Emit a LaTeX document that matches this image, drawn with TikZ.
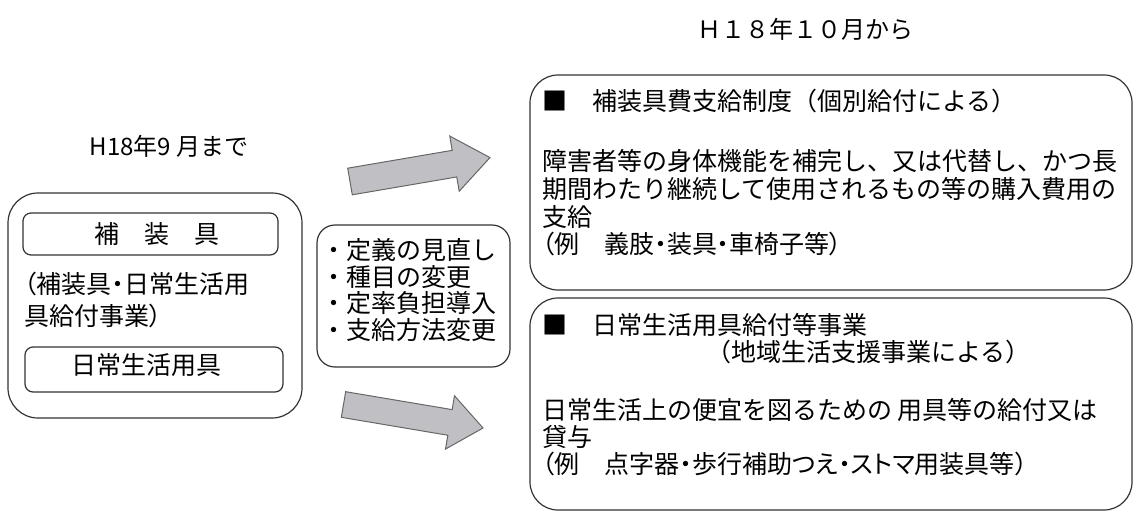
\documentclass[tikz,border=0pt]{standalone}
\usepackage{fontspec}
\newfontfamily\jp{Noto Sans CJK JP}
\newfontfamily\jpp[RawFeature=+palt]{Noto Sans CJK JP}
\definecolor{arrowfill}{RGB}{192,192,196}
\begin{document}
\begin{tikzpicture}[x=1pt,y=-1pt,
  box/.style={draw=black!80, line width=1.2pt, rounded corners=#1, inner sep=0pt},
  txt/.style={font=\jp\fontsize{25}{28}\selectfont, inner sep=0pt, anchor=base west},
  ptxt/.style={font=\jpp\fontsize{25}{28}\selectfont, inner sep=0pt, anchor=base west},
  ctxt/.style={font=\jp\fontsize{25}{28}\selectfont, inner sep=0pt, anchor=base},
  htxt/.style={font=\jp\fontsize{24}{28}\selectfont, inner sep=0pt, anchor=base},
  blockarrow/.style={fill=arrowfill, draw=black!60, line width=1pt, line join=miter}]
\useasboundingbox (0,0) rectangle (1134,512);

% headers
\node[htxt] (after) at (805,38) {Ｈ１８年１０月から};
\node[htxt] (before) at (169,155) {H18年9 月まで};

% left box
\node[box=30pt, minimum width=294pt, minimum height=225pt] (left) at (155,305.5) {};
\node[box=8pt, minimum width=255pt, minimum height=42pt] (hosogu) at (150.5,234) {};
\node[ctxt] (hosogut) at (157,243) {補　装　具};
\node[ptxt] (l1) at (24,293) {（補装具・日常生活用};
\node[ptxt] (l2) at (24,325) {具給付事業）};
\node[box=8pt, minimum width=258pt, minimum height=45pt] (nichijo) at (154,369.5) {};
\node[ctxt] (nichijot) at (146,374) {日常生活用具};

% middle box
\node[box=18pt, minimum width=193pt, minimum height=142pt] (mid) at (413.5,296) {};
\node[txt] (m1) at (321,259) {・定義の見直し};
\node[txt] (m2) at (321,286) {・種目の変更};
\node[txt] (m3) at (321,312) {・定率負担導入};
\node[txt] (m4) at (321,339) {・支給方法変更};

% arrows
\begin{scope}[shift={(350,181.5)}, rotate=9.7]
  \draw[blockarrow] (0,-13.5) -- (106,-13.5) -- (106,-28) -- (142,0) -- (106,28) -- (106,13.5) -- (0,13.5) -- cycle;
\end{scope}
\begin{scope}[shift={(343.5,404.5)}, rotate=-9.56]
  \draw[blockarrow] (0,-13) -- (108,-13) -- (108,-27) -- (141.5,0) -- (108,27) -- (108,13) -- (0,13) -- cycle;
\end{scope}

% upper right box
\node[box=28pt, minimum width=602pt, minimum height=215pt] (upper) at (831,182.5) {};
\node[txt] (u0) at (542,110) {■　補装具費支給制度（個別給付による）};
\node[txt] (u1) at (542,170) {障害者等の身体機能を補完し、又は代替し、かつ長};
\node[txt] (u2) at (542,198) {期間わたり継続して使用されるもの等の購入費用の};
\node[txt] (u3) at (542,226) {支給};
\node[ptxt] (u4) at (542,253) {（例　義肢・装具・車椅子等）};

% lower right box
\node[box=28pt, minimum width=602pt, minimum height=212pt] (lower) at (831,404) {};
\node[txt] (d0) at (542,334) {■　日常生活用具給付等事業};
\node[txt] (d1) at (706,361) {（地域生活支援事業による）};
\node[txt] (d2) at (542,419) {日常生活上の便宜を図るための 用具等の給付又は};
\node[txt] (d3) at (542,446) {貸与};
\node[ptxt] (d4) at (542,473) {（例　点字器・歩行補助つえ・ストマ用装具等）};
\end{tikzpicture}
\end{document}
